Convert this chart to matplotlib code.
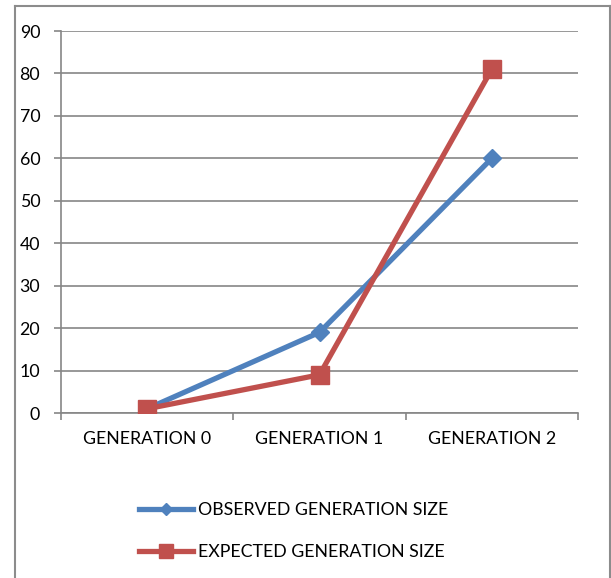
import matplotlib
matplotlib.use("Agg")
import matplotlib.pyplot as plt
from matplotlib.lines import Line2D

categories = ["GENERATION 0", "GENERATION 1", "GENERATION 2"]
observed = [1, 19, 60]
expected = [1, 9, 81]
y_ticks = [0, 10, 20, 30, 40, 50, 60, 70, 80, 90]

plt.rcParams['font.family'] = ['Lato', 'DejaVu Sans']

W, H = 611, 578
fig = plt.figure(figsize=(W / 100, H / 100), dpi=100)
ax = fig.add_axes([61 / W, (H - 413) / H, (578 - 61) / W, (413 - 31) / H])

grid_c = "#868686"
blue = "#4F81BD"
red = "#C0504D"
fs = 12.8

x = [0.5, 1.5, 2.5]
ax.plot(x, observed, color=blue, lw=3.8, marker="D", ms=9, label="OBSERVED GENERATION SIZE", zorder=3)
ax.plot(x, expected, color=red, lw=3.8, marker="s", ms=13, label="EXPECTED GENERATION SIZE", zorder=4)

ax.set_xlim(0, 3)
ax.set_ylim(0, 90)
ax.set_yticks(y_ticks)
ax.set_yticklabels([str(v) for v in y_ticks], fontsize=fs)
ax.set_xticks([0, 1, 2, 3])
ax.set_xticklabels([])
ax.set_xticks(x, minor=True)
ax.set_xticklabels(categories, minor=True, fontsize=fs)
ax.tick_params(axis="x", which="minor", length=0, pad=13)
ax.tick_params(axis="x", which="major", length=5, color=grid_c, width=1.2)
ax.tick_params(axis="y", length=5, color=grid_c, width=1.2, pad=10)
ax.yaxis.grid(True, color=grid_c, lw=1.2)
ax.set_axisbelow(True)
for s in ["top", "right"]:
    ax.spines[s].set_visible(False)
for s in ["left", "bottom"]:
    ax.spines[s].set_color(grid_c)
    ax.spines[s].set_linewidth(1.2)

handles = [
    Line2D([], [], color=blue, lw=3.8, marker="D", ms=6),
    Line2D([], [], color=red, lw=3.8, marker="s", ms=10),
]
fig.legend(handles, ["OBSERVED GENERATION SIZE", "EXPECTED GENERATION SIZE"],
           loc="center", bbox_to_anchor=(294 / W, 1 - 531 / H), frameon=False,
           fontsize=fs, handlelength=3.05, handletextpad=0.28, labelspacing=1.45)

# chart frame
frame_c = "#8C8C8C"
fig.add_artist(Line2D([15 / W, 15 / W], [0, 1 - 6 / H], color=frame_c, lw=1.5))
fig.add_artist(Line2D([15 / W, 610 / W], [1 - 6 / H, 1 - 6 / H], color=frame_c, lw=1.5))
fig.add_artist(Line2D([610 / W, 610 / W], [0, 1 - 6 / H], color=frame_c, lw=1.5))

fig.savefig("out.png", dpi=100)
